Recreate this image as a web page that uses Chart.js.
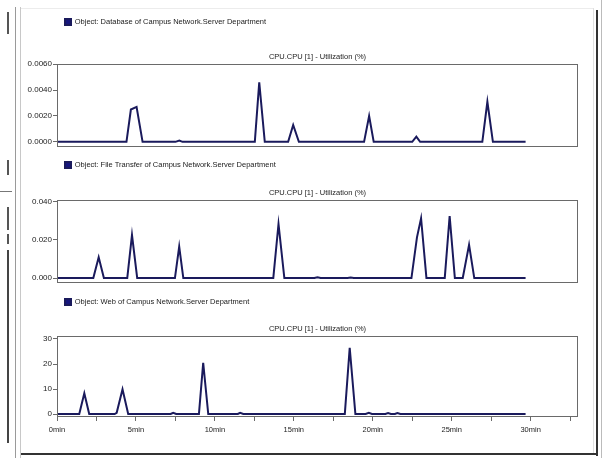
<!DOCTYPE html>
<html>
<head>
<meta charset="utf-8">
<script src="https://cdn.jsdelivr.net/npm/chart.js@4.4.1/dist/chart.umd.min.js"></script>
<style>
  html, body { margin: 0; padding: 0; background: #fff; }
  #page { position: relative; width: 605px; height: 458px; overflow: hidden; background: #fff; }
  .panel { position: absolute; left: 0; width: 605px; }
  .ln { position: absolute; }
</style>
</head>
<body>
<div id="page">
  <!-- window frame bits -->
  <div class="ln" style="left:15px;top:7px;width:1px;height:451px;background:#9a9a9a"></div>
  <div class="ln" style="left:20px;top:7px;width:1px;height:451px;background:#c8c8c8"></div>
  <div class="ln" style="left:21px;top:8px;width:572px;height:1px;background:#ececec"></div>
  <div class="ln" style="left:593px;top:8px;width:1px;height:446px;background:#e0e0e0"></div>
  <div class="ln" style="left:596px;top:10px;width:2px;height:446px;background:#333"></div>
  <div class="ln" style="left:601px;top:0px;width:1px;height:458px;background:#bbb"></div>
  <div class="ln" style="left:21px;top:453px;width:577px;height:2px;background:#333"></div>
  <div class="ln" style="left:7px;top:12px;width:2px;height:22px;background:#555"></div>
  <div class="ln" style="left:7px;top:160px;width:2px;height:15px;background:#555"></div>
  <div class="ln" style="left:0px;top:191px;width:12px;height:1px;background:#777"></div>
  <div class="ln" style="left:7px;top:207px;width:2px;height:23px;background:#555"></div>
  <div class="ln" style="left:7px;top:234px;width:2px;height:10px;background:#555"></div>
  <div class="ln" style="left:7px;top:250px;width:2px;height:193px;background:#444"></div>

  <div class="panel" style="top:0px;height:150px"><canvas id="cpu1"></canvas></div>
  <div class="panel" style="top:150px;height:136px"><canvas id="cpu2"></canvas></div>
  <div class="panel" style="top:288px;height:157px"><canvas id="cpu3"></canvas></div>
</div>
<script>
// Database server
const dbTimes  = [0, 4.4, 4.68, 5.04, 5.42, 7.5, 7.75, 7.95, 12.53, 12.81, 13.16, 14.64, 14.96, 15.32, 19.45, 19.77, 20.06, 22.5, 22.76, 23.0, 26.94, 27.26, 27.61, 29.68];
const dbValues = [0, 0, 0.0025, 0.0027, 0, 0, 0.0001, 0, 0, 0.0046, 0, 0, 0.0013, 0, 0, 0.0020, 0, 0, 0.0004, 0, 0, 0.0031, 0, 0];

// File transfer server
const ftTimes  = [0, 2.3, 2.64, 2.97, 4.45, 4.75, 5.08, 7.47, 7.74, 8.0, 13.7, 14.03, 14.4, 16.3, 16.5, 16.7, 18.4, 18.6, 18.8, 22.45, 22.8, 23.06, 23.4, 24.56, 24.87, 25.2, 25.7, 26.1, 26.43, 29.68];
const ftValues = [0, 0, 0.0109, 0, 0, 0.0226, 0, 0, 0.0165, 0, 0, 0.0284, 0, 0, 0.0004, 0, 0, 0.0003, 0, 0, 0.0214, 0.0314, 0, 0, 0.0326, 0, 0, 0.0174, 0, 0];

// Web server
const webTimes  = [0, 1.41, 1.73, 2.04, 3.65, 3.78, 4.15, 4.51, 7.2, 7.36, 7.55, 8.99, 9.26, 9.58, 11.45, 11.6, 11.8, 18.23, 18.54, 18.9, 19.55, 19.75, 19.95, 20.8, 20.97, 21.15, 21.4, 21.56, 21.75, 29.68];
const webValues = [0, 0, 8.3, 0, 0, 0.5, 9.9, 0, 0, 0.5, 0, 0, 20.5, 0, 0, 0.5, 0, 0, 26.5, 0, 0, 0.5, 0, 0, 0.4, 0, 0, 0.4, 0, 0];

const dbTicks  = [0, 0.002, 0.004, 0.006];
const ftTicks  = [0, 0.02, 0.04];
const webTicks = [0, 10, 20, 30];
const timeTicks = [0, 2.5, 5, 7.5, 10, 12.5, 15, 17.5, 20, 22.5, 25, 27.5, 30, 32.5];

const FONT = "'Liberation Sans', Arial, sans-serif";
const LINE = '#1a1a5c';
const AXIS = '#6a6a6a';

// box around the plot area
const frame = {
    id: 'frame',
    afterDatasetsDraw(chart) {
        const a = chart.chartArea;
        const c = chart.ctx;
        c.save();
        c.strokeStyle = AXIS;
        c.lineWidth = 1;
        c.strokeRect(Math.round(a.left) + 0.5, Math.round(a.top) + 0.5,
                     Math.round(a.right - a.left) - 1, Math.round(a.bottom - a.top) - 1);
        c.restore();
    }
};

function makePanel(id, label, times, values, yMin, yMax, yTicks, digits, opt) {
    new Chart(document.getElementById(id), {
        type: 'line',
        data: {
            datasets: [{
                label: label,
                data: times.map((t, i) => ({ x: t, y: values[i] })),
                borderColor: LINE,
                backgroundColor: '#15157e',
                borderWidth: 2,
                pointRadius: 0,
                tension: 0
            }]
        },
        options: {
            responsive: true,
            maintainAspectRatio: false,
            animation: false,
            events: [],
            layout: { padding: { left: 0, right: 27, top: opt.top, bottom: opt.bottom } },
            plugins: {
                legend: {
                    display: true,
                    position: 'top',
                    align: 'start',
                    fullSize: false,
                    weight: 1000,
                    labels: {
                        boxWidth: 6,
                        boxHeight: 6,
                        padding: 8,
                        color: '#222',
                        font: { family: FONT, size: 7.5 }
                    }
                },
                title: {
                    display: true,
                    text: 'CPU.CPU [1] - Utilization (%)',
                    fullSize: false,
                    weight: 500,
                    color: '#222',
                    font: { family: FONT, size: 7.5, weight: 'normal' },
                    padding: { top: opt.titleTop, bottom: 2.5 }
                },
                tooltip: { enabled: false }
            },
            scales: {
                x: {
                    type: 'linear',
                    min: 0,
                    max: 33,
                    display: opt.showX,
                    afterBuildTicks: s => { s.ticks = timeTicks.map(v => ({ value: v })); },
                    afterFit: s => {
                        s.height = opt.showX ? 28 : 0;
                        s.paddingLeft = 0;
                        s.paddingRight = 0;
                    },
                    border: { display: false },
                    grid: { drawOnChartArea: false, tickLength: 4, color: AXIS },
                    ticks: {
                        color: '#222',
                        padding: 4,
                        maxRotation: 0,
                        autoSkip: false,
                        font: { family: FONT, size: 7.5 },
                        callback: v => (v % 5 === 0 ? v + 'min' : '')
                    }
                },
                y: {
                    min: yMin,
                    max: yMax,
                    afterBuildTicks: s => { s.ticks = yTicks.map(v => ({ value: v })); },
                    afterFit: s => {
                        s.width = 57;
                        s.paddingTop = 0;
                        s.paddingBottom = 0;
                    },
                    border: { display: false },
                    grid: { drawOnChartArea: false, tickLength: 4, color: AXIS },
                    ticks: {
                        color: '#222',
                        padding: 1,
                        font: { family: FONT, size: 8 },
                        callback: v => v.toFixed(digits)
                    }
                }
            }
        },
        plugins: [frame]
    });
}

makePanel('cpu1', 'Object: Database of Campus Network.Server Department',
    dbTimes, dbValues, -0.0004, 0.00602, dbTicks, 4,
    { top: 10.25, bottom: 3, titleTop: 16.75, showX: false });
makePanel('cpu2', 'Object: File Transfer of Campus Network.Server Department',
    ftTimes, ftValues, -0.0026, 0.041, ftTicks, 3,
    { top: 3.25, bottom: 3, titleTop: 9.75, showX: false });
makePanel('cpu3', 'Object: Web of Campus Network.Server Department',
    webTimes, webValues, -1.2, 31.2, webTicks, 0,
    { top: 2.25, bottom: 0, titleTop: 8.75, showX: true });
</script>
</body>
</html>
